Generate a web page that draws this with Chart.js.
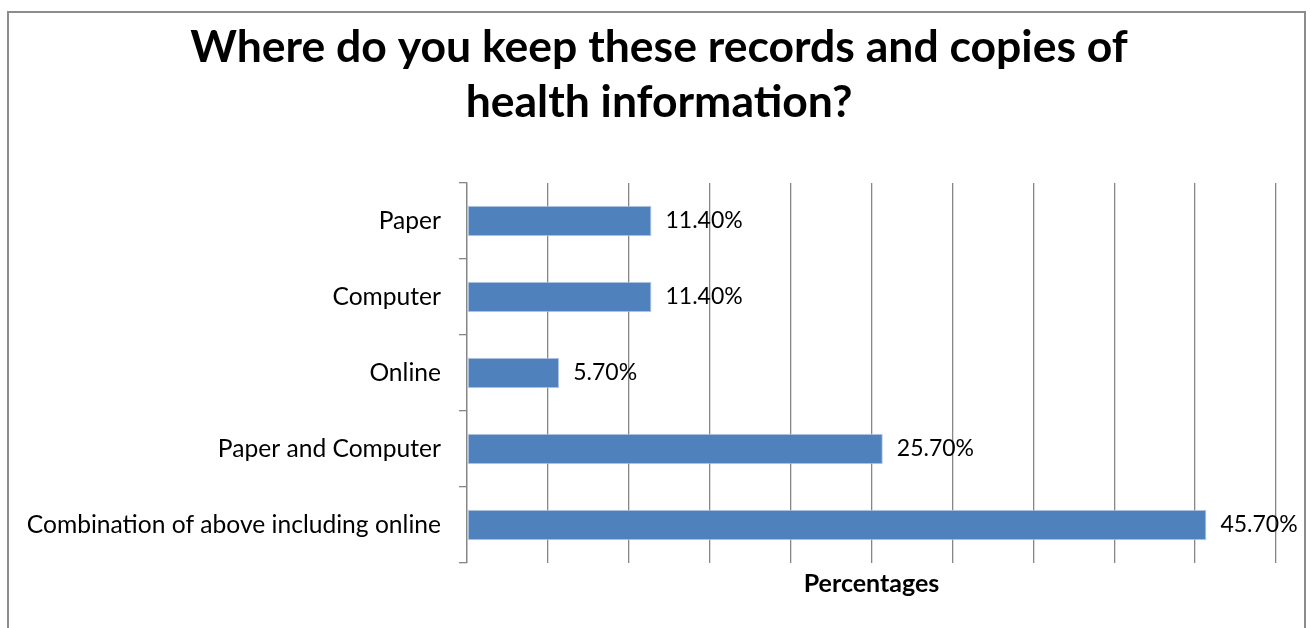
<!DOCTYPE html>
<html>
<head>
<meta charset="utf-8">
<title>Health records storage</title>
<script src="https://cdn.jsdelivr.net/npm/chart.js@4.4.1/dist/chart.umd.min.js"></script>
<style>
  html, body { margin: 0; padding: 0; background: #fff; }
  body { width: 1311px; height: 628px; position: relative; overflow: hidden; }
  #frame {
    position: absolute; left: 7px; top: 11px; width: 1299px; height: 640px;
    border: 2px solid #8c8c8c; border-bottom: none; box-sizing: border-box;
  }
  #wrap { position: absolute; left: 0; top: 0; width: 1311px; height: 628px; }
</style>
</head>
<body>
<div id="frame"></div>
<div id="wrap"><canvas id="storageChart"></canvas></div>
<script>
const titleLines = ['Where do you keep these records and copies of', 'health information?'];
const categories = ['Paper', 'Computer', 'Online', 'Paper and Computer', 'Combination of above including online'];
const percentages = [11.4, 11.4, 5.7, 25.7, 45.7];
const axisTitle = 'Percentages';
const axisMax = 50;
const axisStep = 5;

const FONT = 'Lato, "Open Sans", sans-serif';
const GRID = '#868686';

// writes "11.40%" etc. to the right of each bar
const valueLabels = {
  id: 'valueLabels',
  afterDatasetsDraw(chart) {
    const ctx = chart.ctx;
    const meta = chart.getDatasetMeta(0);
    ctx.save();
    ctx.font = '23px ' + FONT;
    ctx.fillStyle = '#000';
    ctx.textAlign = 'left';
    ctx.textBaseline = 'middle';
    meta.data.forEach((bar, i) => {
      ctx.fillText(percentages[i].toFixed(2) + '%', bar.x + 14, bar.y);
    });
    ctx.restore();
  }
};

const ctx = document.getElementById('storageChart').getContext('2d');
new Chart(ctx, {
  type: 'bar',
  data: {
    labels: categories,
    datasets: [{
      label: axisTitle,
      data: percentages,
      backgroundColor: '#4f81bd',
      borderColor: '#b9cde5',
      borderWidth: 1,
      borderSkipped: false,
      barPercentage: 0.4,
      categoryPercentage: 1
    }]
  },
  options: {
    indexAxis: 'y',
    responsive: true,
    maintainAspectRatio: false,
    animation: false,
    layout: { padding: { left: 7, right: 0, top: 0, bottom: 19 } },
    plugins: {
      legend: { display: false },
      tooltip: { enabled: false },
      title: {
        display: true,
        text: titleLines,
        color: '#000',
        font: { family: FONT, size: 44.5, weight: 'bold', lineHeight: 1.236 },
        padding: { top: 20, bottom: 53 }
      }
    },
    scales: {
      x: {
        min: 0,
        max: axisMax,
        ticks: { display: false, stepSize: axisStep },
        grid: { color: GRID, lineWidth: 1.3, drawTicks: false },
        border: { display: false },
        title: {
          display: true,
          text: axisTitle,
          color: '#000',
          font: { family: FONT, size: 25, weight: 'bold', lineHeight: 1.2 },
          padding: { top: 6, bottom: 10 }
        }
      },
      y: {
        ticks: { color: '#000', font: { family: FONT, size: 24.6 }, padding: 18 },
        grid: { drawOnChartArea: false, color: GRID, lineWidth: 1.3, tickLength: 8 },
        border: { color: GRID, width: 1.3 },
        afterFit(scale) { scale.width = 460; }
      },
      // empty right-hand axis keeps the plot clear of the right edge
      yRight: {
        position: 'right',
        display: true,
        ticks: { display: false },
        grid: { display: false },
        border: { display: false },
        afterFit(scale) { scale.width = 35; }
      }
    }
  },
  plugins: [valueLabels]
});
</script>
</body>
</html>
